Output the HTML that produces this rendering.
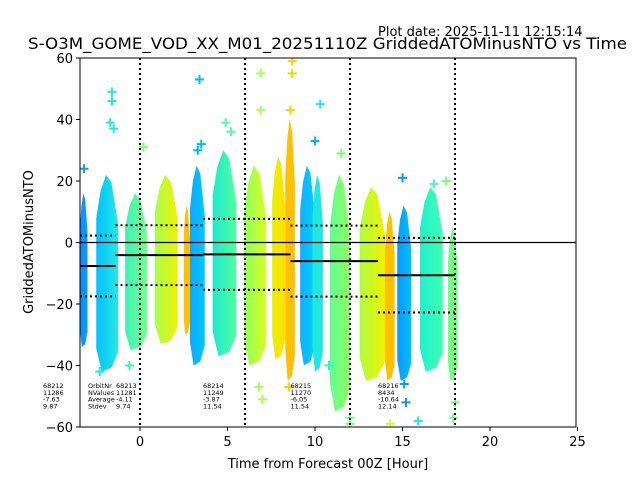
<!DOCTYPE html>
<html><head><meta charset="utf-8"><style>
html,body{margin:0;padding:0;background:#fff;}
svg{display:block;font-family:"DejaVu Sans","Liberation Sans",sans-serif;}
</style></head><body>
<svg id="chart" width="640" height="480" viewBox="0 0 640 480">
<defs><clipPath id="pc"><rect x="80" y="58" width="496" height="369"/></clipPath></defs>
<text x="378" y="36" font-size="13">Plot date: 2025-11-11 12:15:14</text>
<text x="28" y="49" font-size="16" textLength="599" lengthAdjust="spacingAndGlyphs">S-O3M_GOME_VOD_XX_M01_20251110Z GriddedATOMinusNTO vs Time</text>
<g id="bands" clip-path="url(#pc)"></g>
<g id="marks" clip-path="url(#pc)"></g>
<g id="axes"></g>
<g id="notes"></g>
<text x="328" y="468" font-size="13" text-anchor="middle">Time from Forecast 00Z [Hour]</text>
<text x="0" y="0" font-size="13" text-anchor="middle" transform="translate(33,242) rotate(-90)">GriddedATOMinusNTO</text>
</svg>
<script>
// data bands: start hour, end hour, max, min, color start, color end
const bandStart=[-3.43,-2.5,-0.85,0.85,2.5,2.85,4.15,5.95,7.55,8.3,9.15,9.85,10.85,12.55,14.0,14.7,16.0,17.6];
const bandEnd=[-3.0,-1.25,0.4,2.15,2.85,3.7,5.5,7.2,8.3,8.85,10.0,10.45,12.0,14.0,14.55,15.5,17.3,18.15];
const bandMax=[16,22,16,22,12,25,30,25,28,40,25,22,22,18,10,12,18,5];
const bandMin=[-34,-42,-35,-33,-30,-40,-37,-40,-38,-45,-40,-42,-55,-45,-45,-45,-42,-45];
const bandC1=["#0a8cff","#00c0ff","#40f0b8","#a8ff50","#ffc000","#10a8ff","#20e8d0","#90ff60","#e8f000","#ffc000","#10b0ff","#20e8e0","#60ff90","#b0ff40","#ffc000","#0a98ff","#20f0d0","#70ff80"];
const bandC2=["#0a9cff","#28e8e0","#70ff90","#f0f000","#ffc000","#00c8ff","#50ffa0","#d8ff20","#ffe000","#ffc000","#00d0ff","#20e8e0","#90ff60","#f0f000","#ffc000","#00c0ff","#40ffb0","#70ff80"];
// outlier crosses
const ptH=[-3.2,-1.6,-1.6,-1.7,-1.5,3.4,3.5,3.3,4.9,5.2,6.9,6.9,8.7,8.7,8.6,8.5,10.3,10.0,11.5,12.0,14.3,15.0,15.1,15.9,16.8,17.5,18.0,7.0,6.8,12.0,10.8,15.2,17.9,-2.3,0.2,-0.6];
const ptV=[24,49,46,39,37,53,32,30,39,36,55,43,59,55,43,-47,45,33,29,-59,-59,21,-46,-58,19,20,-52,-51,-47,-57,-40,-52,-57,-42,31,-40];
const ptC=["#0a9cff","#28e8e0","#28e8e0","#28e8e0","#28e8e0","#00b8ff","#00b8ff","#00b8ff","#50ffa0","#50ffa0","#a8ff50","#a8ff50","#ffd000","#ffd000","#ffd000","#ffd000","#20e8e0","#10b0ff","#80ff70","#70ff80","#c8ff30","#0a98ff","#0a98ff","#20e8e0","#40ffb0","#70ff80","#70ff80","#a8ff50","#a8ff50","#70ff80","#30f0d0","#0a98ff","#70ff80","#20e8e0","#80ff70","#40f0b8"];
// orbit segments
const segStart=[-3.43,-1.4,3.6,8.6,13.6];
const segEnd=[-1.4,3.6,8.6,13.6,18.0];
const segOrbit=["68212","68213","68214","68215","68216"];
const segN=["11286","11281","11249","11270","8434"];
const segMean=[-7.63,-4.11,-3.87,-6.05,-10.64];
const segStd=[9.87,9.74,11.54,11.54,12.14];
const xTicks=[0,5,10,15,20,25];
const yTicks=[-60,-40,-20,0,20,40,60];
const vLines=[0,6,12,18];

const NS="http://www.w3.org/2000/svg";
const X=h=>140+h*17.5, Y=v=>242.5-v*3.075;
function mk(tag,attrs,parent){const e=document.createElementNS(NS,tag);for(const k in attrs)e.setAttribute(k,attrs[k]);parent.appendChild(e);return e;}
const svg=document.getElementById('chart');
const defs=svg.querySelector('defs');
const bands=document.getElementById('bands'),marks=document.getElementById('marks'),axes=document.getElementById('axes'),notes=document.getElementById('notes');
for(let i=0;i<bandStart.length;i++){
  const g=mk('linearGradient',{id:'g'+i,x1:0,x2:1,y1:0,y2:0},defs);
  mk('stop',{offset:0,'stop-color':bandC1[i]},g);mk('stop',{offset:1,'stop-color':bandC2[i]},g);
  const x1=X(bandStart[i]),x2=X(bandEnd[i]),w=x2-x1,yt=Y(bandMax[i]),yb=Y(bandMin[i]);
  const h=yb-yt;
  const d=`M${x1+w*0.25},${yb} L${x1},${yb-h*0.12} L${x1},${yt+h*0.22} L${x1+w*0.2},${yt+h*0.08} L${x1+w*0.45},${yt} L${x1+w*0.7},${yt+h*0.04} L${x2},${yt+h*0.25} L${x2},${yb-h*0.1} L${x2-w*0.3},${yb-h*0.02} Z`;
  const p=mk('path',{d:d,fill:`url(#g${i})`},bands);
  
  
}
for(let i=0;i<ptH.length;i++){
  const x=X(ptH[i]),y=Y(ptV[i]);
  const p=mk('path',{d:`M${x-4.5},${y}H${x+4.5}M${x},${y-4.5}V${y+4.5}`,stroke:ptC[i],'stroke-width':2},bands);
  
  
}
const z=mk('line',{x1:80,x2:576,y1:Y(0),y2:Y(0),stroke:'#000','stroke-width':1.2},marks);


for(const h of vLines){
  const l=mk('line',{x1:X(h),x2:X(h),y1:58,y2:427,stroke:'#000','stroke-width':2,'stroke-dasharray':'2,3'},marks);
  
  
}
for(let i=0;i<segStart.length;i++){
  const x1=X(segStart[i]),x2=X(segEnd[i]);
  const m=mk('line',{x1:x1,x2:x2,y1:Y(segMean[i]),y2:Y(segMean[i]),stroke:'#000','stroke-width':2},marks);
  
  
  for(const s of [1,-1]){
    const v=segMean[i]+s*segStd[i];
    const d=mk('line',{x1:x1,x2:x2,y1:Y(v),y2:Y(v),stroke:'#000','stroke-width':2,'stroke-dasharray':'2,3'},marks);
    
    
  }
  const tx=i==0?43:X(segStart[i]);
  const vals=[segOrbit[i],segN[i],segMean[i].toFixed(2),segStd[i].toFixed(2)];
  vals.forEach((t,k)=>{
    const e=mk('text',{x:i==1?116:tx,y:388+k*6.8,'font-size':6.5},notes);
    e.textContent=(i==0||i==1)?' '+t:t;
    
    
  });
}
['OrbitNr','NValues','Average','Stdev'].forEach((t,k)=>{
  const e=mk('text',{x:88,y:388+k*6.8,'font-size':6.5},notes);
  e.textContent=t;
  
  
});
const fr=mk('rect',{x:80,y:58,width:496,height:369,fill:'none',stroke:'#000','stroke-width':1},axes);


for(const t of xTicks){
  const l=mk('line',{x1:X(t),x2:X(t),y1:427,y2:431,stroke:'#000'},axes);
  
  
  const e=mk('text',{x:X(t),y:446,'font-size':13,'text-anchor':'middle'},axes);
  e.textContent=t;
  
  
}
for(const t of yTicks){
  const l=mk('line',{x1:76,x2:80,y1:Y(t),y2:Y(t),stroke:'#000'},axes);
  
  
  const e=mk('text',{x:73,y:Y(t)+5,'font-size':13,'text-anchor':'end'},axes);
  e.textContent=t<0?'\u2212'+(-t):t;
  
  
}
</script>
</body></html>
